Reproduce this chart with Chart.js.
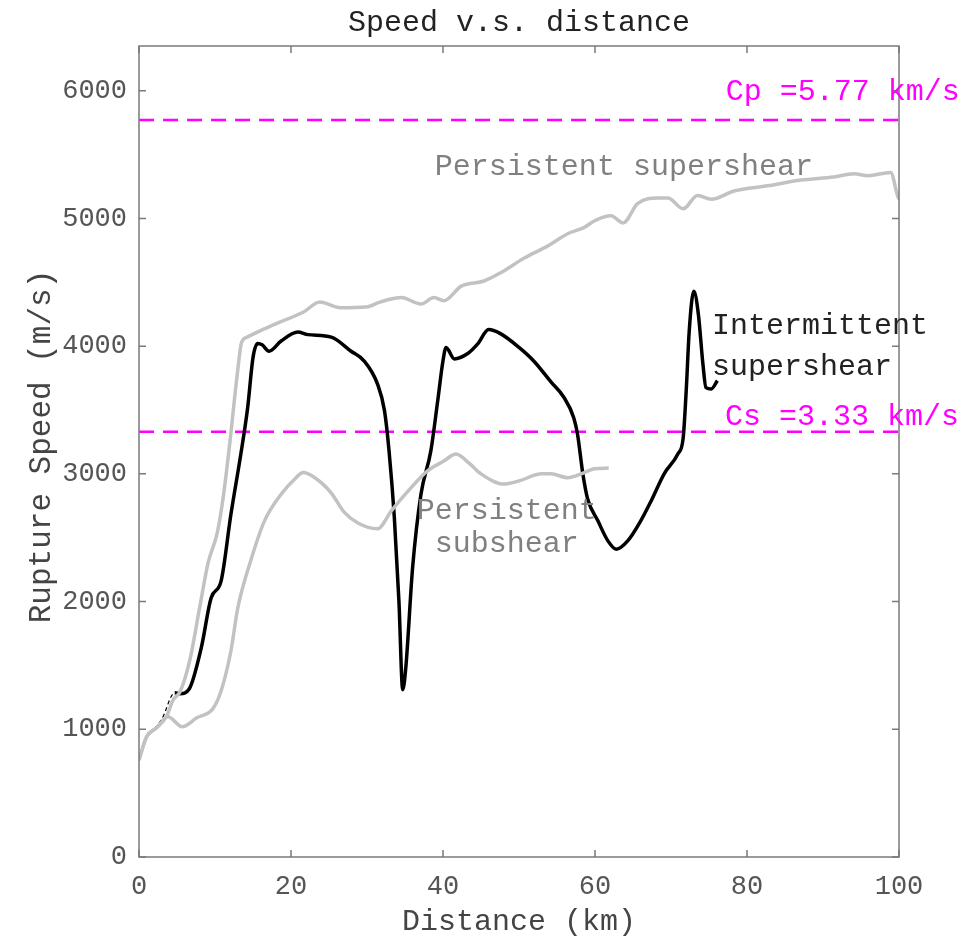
<!DOCTYPE html>
<html>
<head>
<meta charset="utf-8">
<script src="https://cdn.jsdelivr.net/npm/chart.js@4/dist/chart.umd.min.js"></script>
<style>
    html, body { margin: 0; padding: 0; background: #fff; }
    #wrap { width: 977px; height: 941px; }
</style>
</head>
<body>
<div id="wrap"><canvas id="speedChart" width="977" height="941"></canvas></div>
<script>
// Persistent supershear (upper grey curve)
const distSuper = [0, 1.0, 2.3, 3.6, 4.5, 5.4, 6.7, 8.0, 9.1, 10.3, 11.1, 12.0, 12.9, 13.5, 14.2, 16.4, 18.6, 21.6, 23.8, 26.5, 29.9, 31.7, 34.5, 37.1, 38.8, 40.1, 42.4, 45.4, 47.6, 50.7, 53.8, 56.4, 58.6, 59.9, 62.1, 63.7, 65.6, 68.3, 69.6, 71.6, 73.5, 75.3, 78.3, 82.7, 87.1, 91.4, 94.1, 95.9, 98.9, 99.8, 100];
const speedSuper = [760, 941, 1011, 1098, 1231, 1294, 1545, 1960, 2305, 2540, 2825, 3270, 3765, 4030, 4070, 4133, 4190, 4265, 4345, 4300, 4306, 4345, 4380, 4330, 4380, 4355, 4470, 4510, 4575, 4690, 4785, 4880, 4930, 4980, 5020, 4965, 5115, 5160, 5160, 5075, 5180, 5150, 5215, 5255, 5300, 5325, 5350, 5335, 5360, 5180, 5150];

// Intermittent supershear (black curve)
const distInter = [1.4, 3.0, 4.7, 5.4, 6.6, 8.2, 9.5, 10.8, 12.1, 13.4, 14.3, 15.0, 15.6, 16.2, 17.1, 18.7, 20.9, 22.2, 25.3, 27.9, 29.6, 31.4, 32.3, 32.9, 33.6, 34.2, 34.7, 35.1, 36.0, 37.1, 38.4, 39.3, 40.0, 40.4, 41.5, 43.2, 44.6, 46.0, 47.5, 50.0, 52.0, 54.2, 55.9, 57.2, 57.7, 58.4, 59.0, 60.4, 61.7, 62.8, 64.3, 66.0, 67.4, 69.1, 70.9, 71.6, 72.0, 72.4, 73.0, 73.6, 74.2, 74.6, 75.3, 76.1];
const speedInter = [965, 1080, 1286, 1278, 1315, 1640, 2030, 2160, 2685, 3155, 3520, 3910, 4020, 4010, 3960, 4040, 4110, 4090, 4070, 3960, 3885, 3700, 3495, 3180, 2655, 2005, 1310, 1480, 2265, 2840, 3180, 3570, 3885, 3990, 3900, 3940, 4020, 4130, 4100, 3990, 3880, 3720, 3600, 3440, 3310, 3000, 2810, 2630, 2475, 2410, 2475, 2630, 2790, 3000, 3155, 3280, 3650, 4120, 4430, 4250, 3860, 3675, 3665, 3730];

// Persistent subshear (lower grey curve)
const distSub = [0, 1.0, 2.3, 3.8, 5.7, 7.6, 9.7, 10.8, 12.1, 13.0, 14.7, 16.5, 18.7, 20.5, 21.6, 23.0, 25.3, 27.0, 28.8, 31.4, 33.2, 35.4, 38.0, 40.1, 41.7, 43.5, 45.0, 48.0, 50.0, 53.0, 54.2, 56.4, 58.6, 59.9, 61.8];
const speedSub = [760, 941, 1011, 1098, 1020, 1090, 1160, 1300, 1615, 1950, 2320, 2630, 2840, 2960, 3010, 2975, 2850, 2700, 2615, 2570, 2710, 2865, 3025, 3100, 3155, 3080, 3000, 2920, 2945, 3000, 3000, 2970, 3010, 3040, 3045];

// Reference wave speeds (m/s)
const cpSpeed = 5770;
const csSpeed = 3330;

const xTicks = [0, 20, 40, 60, 80, 100];
const yTicks = [0, 1000, 2000, 3000, 4000, 5000, 6000];

const FONT = "'Liberation Mono', 'DejaVu Sans Mono', monospace";

// text placed in data coordinates
const notes = [
    { text: "Persistent supershear", x: 63.8, y: 5404, align: "center", color: "#808080" },
    { text: "Cp =5.77 km/s", x: 77.2, y: 5992, align: "left", color: "#ff00ff" },
    { text: "Intermittent", x: 75.4, y: 4157, align: "left", color: "#222" },
    { text: "supershear", x: 75.4, y: 3835, align: "left", color: "#222" },
    { text: "Cs =3.33 km/s", x: 77.1, y: 3443, align: "left", color: "#ff00ff" },
    { text: "Persistent", x: 48.4, y: 2706, align: "center", color: "#808080" },
    { text: "subshear", x: 48.4, y: 2447, align: "center", color: "#808080" },
];

function pts(xs, ys) {
    return xs.map((x, i) => ({ x: x, y: ys[i] }));
}

const frame = {
    id: "frame",
    afterDatasetsDraw(chart) {
        const { ctx, chartArea: a, scales } = chart;
        ctx.save();
        ctx.strokeStyle = "#7a7a7a";
        ctx.lineWidth = 1.5;
        ctx.strokeRect(a.left, a.top, a.right - a.left, a.bottom - a.top);
        ctx.beginPath();
        xTicks.forEach((v) => {
            const px = scales.x.getPixelForValue(v);
            ctx.moveTo(px, a.bottom); ctx.lineTo(px, a.bottom - 7);
            ctx.moveTo(px, a.top); ctx.lineTo(px, a.top + 7);
        });
        yTicks.forEach((v) => {
            const py = scales.y.getPixelForValue(v);
            ctx.moveTo(a.left, py); ctx.lineTo(a.left + 7, py);
            ctx.moveTo(a.right, py); ctx.lineTo(a.right - 7, py);
        });
        ctx.stroke();

        ctx.textBaseline = "middle";
        ctx.font = "30px " + FONT;
        notes.forEach((n) => {
            ctx.fillStyle = n.color;
            ctx.textAlign = n.align;
            ctx.fillText(n.text, scales.x.getPixelForValue(n.x), scales.y.getPixelForValue(n.y));
        });

        const cx = (a.left + a.right) / 2;
        ctx.fillStyle = "#222";
        ctx.textAlign = "center";
        ctx.fillText("Speed v.s. distance", cx, 23);
        ctx.fillStyle = "#444";
        ctx.fillText("Distance (km)", cx, 922);
        ctx.translate(42, (a.top + a.bottom) / 2 - 5);
        ctx.rotate(-Math.PI / 2);
        ctx.font = "31px " + FONT;
        ctx.fillText("Rupture Speed (m/s)", 0, 0);
        ctx.restore();
    },
};

const curve = { pointRadius: 0, borderWidth: 3.5, cubicInterpolationMode: "monotone" };

new Chart(document.getElementById("speedChart"), {
    type: "line",
    data: {
        datasets: [
            Object.assign({ label: "Persistent supershear", data: pts(distSuper, speedSuper), borderColor: "#c2c2c2" }, curve),
            Object.assign({ label: "Persistent subshear", data: pts(distSub, speedSub), borderColor: "#c2c2c2" }, curve),
            Object.assign({
                label: "Intermittent supershear",
                data: pts(distInter, speedInter),
                borderColor: "#000",
                segment: {
                    borderWidth: (c) => (c.p1DataIndex <= 2 ? 1.2 : 3.5),
                    borderDash: (c) => (c.p1DataIndex <= 2 ? [4, 3] : []),
                },
            }, curve),
            {
                label: "Cp",
                data: pts([0, 100], [cpSpeed, cpSpeed]),
                borderColor: "#ff00ff",
                borderWidth: 2.5,
                borderDash: [15, 9],
                pointRadius: 0,
            },
            {
                label: "Cs",
                data: pts([0, 100], [csSpeed, csSpeed]),
                borderColor: "#ff00ff",
                borderWidth: 2.5,
                borderDash: [15, 9],
                pointRadius: 0,
            },
        ],
    },
    options: {
        responsive: false,
        animation: false,
        layout: { padding: { top: 46, right: 78, left: 0, bottom: 0 } },
        plugins: {
            legend: { display: false },
            tooltip: { enabled: false },
        },
        scales: {
            x: {
                type: "linear",
                min: 0,
                max: 100,
                afterBuildTicks: (s) => { s.ticks = xTicks.map((v) => ({ value: v })); },
                afterFit: (s) => { s.height = 84; },
                grid: { display: false, drawTicks: false },
                border: { display: false },
                ticks: { color: "#555", font: { family: FONT, size: 27 }, padding: 14, callback: (v) => String(v) },
            },
            y: {
                min: 0,
                max: 6350,
                afterBuildTicks: (s) => { s.ticks = yTicks.map((v) => ({ value: v })); },
                afterFit: (s) => { s.width = 139; },
                grid: { display: false, drawTicks: false },
                border: { display: false },
                ticks: { color: "#555", font: { family: FONT, size: 27 }, padding: 12, callback: (v) => String(v) },
            },
        },
    },
    plugins: [frame],
});
</script>
</body>
</html>
